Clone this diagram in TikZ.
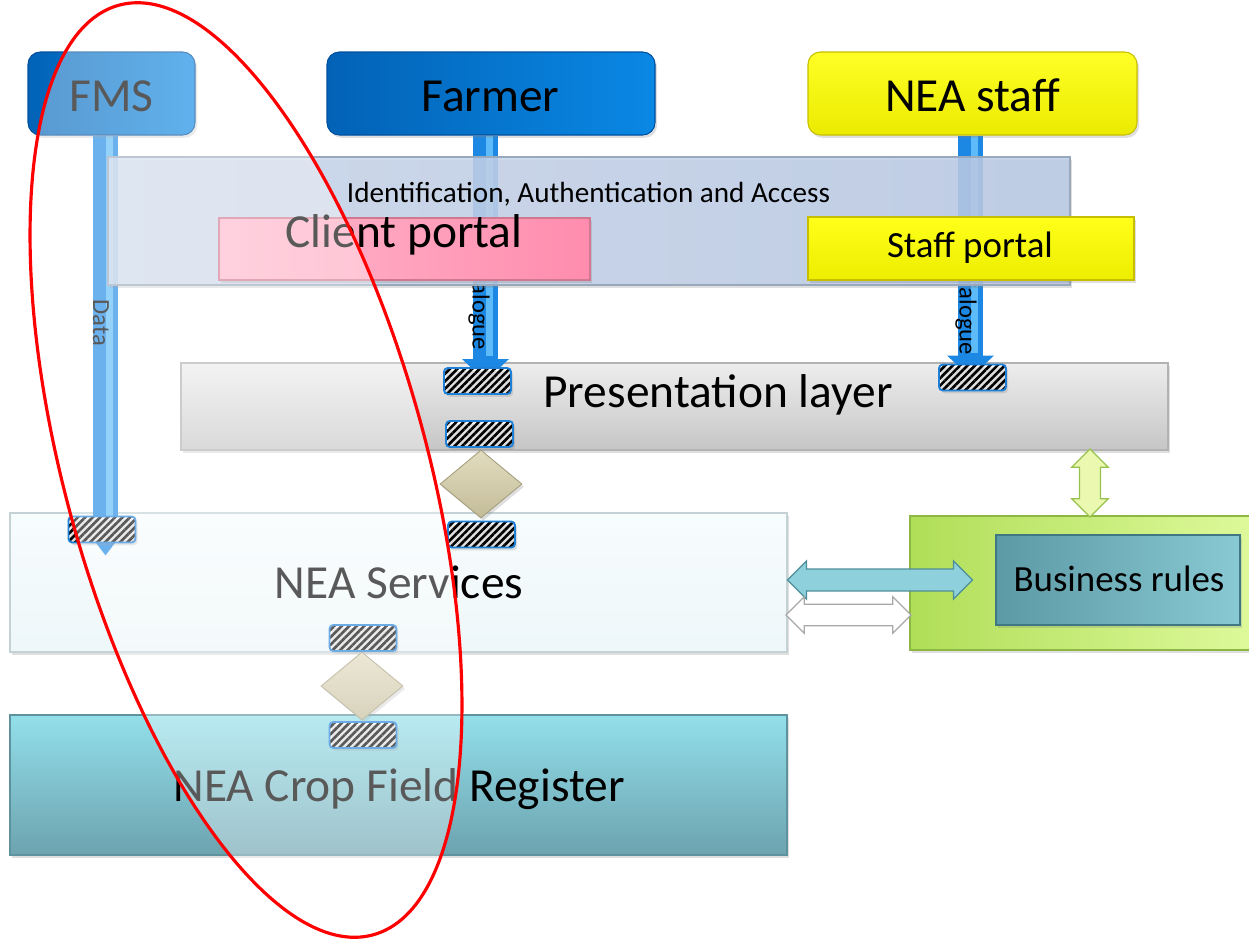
\documentclass[tikz,border=0pt]{standalone}
\usepackage{fontspec}
\setmainfont{Carlito}
\usetikzlibrary{shapes.geometric,shapes.arrows,patterns.meta,shadows,calc,arrows.meta,shadings}
\pgfdeclarelayer{layzero}
\pgfdeclarelayer{layone}
\pgfsetlayers{layzero,layone,main}
\newcommand{\pxu}{0.02cm}
\definecolor{actA}{HTML}{0262B6}
\definecolor{actB}{HTML}{0A88E4}
\definecolor{actD}{HTML}{00509E}
\definecolor{colblue}{HTML}{1C88E4}
\definecolor{colhi}{HTML}{5CBBF8}
\definecolor{yel}{HTML}{FFFF00}
\definecolor{yelD}{HTML}{C8BE00}
\definecolor{bandA}{HTML}{CCD8EC}
\definecolor{bandB}{HTML}{B9CAE6}
\definecolor{bandD}{HTML}{9AA8BC}
\definecolor{pinkA}{HTML}{FFB9CD}
\definecolor{pinkB}{HTML}{FF8CAE}
\definecolor{pinkD}{HTML}{D07890}
\definecolor{grayA}{HTML}{EDEDED}
\definecolor{grayB}{HTML}{C6C6C6}
\definecolor{svcA}{HTML}{F7FCFD}
\definecolor{svcB}{HTML}{EEF7F9}
\definecolor{svcD}{HTML}{C4D2D6}
\definecolor{regA}{HTML}{92DFEA}
\definecolor{regB}{HTML}{6CA3AF}
\definecolor{regD}{HTML}{5E939E}
\definecolor{grnA}{HTML}{B0DE58}
\definecolor{grnB}{HTML}{DDF99A}
\definecolor{grnD}{HTML}{8DB642}
\definecolor{brA}{HTML}{5C9AA5}
\definecolor{brB}{HTML}{88C9D4}
\definecolor{brD}{HTML}{3F7882}
\definecolor{dmA}{HTML}{E2DCC0}
\definecolor{dmB}{HTML}{C4BC98}
\definecolor{dmD}{HTML}{A59E7E}
\definecolor{hblue}{HTML}{1E7FD6}
\definecolor{tealA}{HTML}{8ED0DC}
\definecolor{tealD}{HTML}{4E8E99}
\definecolor{lgrn}{HTML}{EAF8B0}
\definecolor{lgrnD}{HTML}{98C24E}
\definecolor{wD}{HTML}{A8A8A8}
\begin{document}
\begin{tikzpicture}[x=0.02cm,y=-0.02cm,
  sz/.style 2 args={minimum width=#1*\pxu,minimum height=#2*\pxu,inner sep=0pt},
  shad/.style={drop shadow={shadow xshift=1.2pt,shadow yshift=-1.6pt,opacity=0.25}},
  actor/.style={rounded corners=7pt,shad,line width=0.6pt},
  layer/.style={shad,line width=0.6pt},
  big/.style={font=\fontsize{27}{32}\selectfont},
  mid/.style={font=\fontsize{21}{25}\selectfont},
  sml/.style={font=\fontsize{16.6}{20}\selectfont},
  tiny/.style={font=\fontsize{14}{16}\selectfont},
  lbl/.style={inner sep=0pt,anchor=base},
  hatch/.style={sz={67}{26},draw=hblue,line width=1.1pt,rounded corners=2.2pt,
    preaction={fill=white},pattern={Lines[angle=45,distance=3pt,line width=1.5pt]},
    pattern color=black,shad},
  dia/.style={diamond,sz={82}{68},top color=dmA,bottom color=dmB,draw=dmD,line width=0.5pt,shad},
  col/.style={line width=14.2pt,draw=colblue},
  colhl/.style={line width=4.5pt,draw=colhi},
  darr/.style={double arrow,inner sep=#1,minimum width=0pt,double arrow tip angle=90,line width=0.7pt},
]
\useasboundingbox (0,0) rectangle (1249,938);

% bottom layers
\begin{pgfonlayer}{layzero}
\node[layer,sz={987}{87},top color=grayA,bottom color=grayB,draw=grayB!90!black] (pres) at (674.5,406.5) {};
\node[layer,sz={777}{139},top color=svcA,bottom color=svcB,draw=svcD] (nsvc) at (398.5,582.5) {};
\node[layer,sz={777}{140},top color=regA,bottom color=regB,draw=regD] (reg) at (398.5,785) {};
\node[layer,sz={340}{134},left color=grnA,right color=grnB,draw=grnD] (grn) at (1080,583) {};
\node[layer,sz={244}{90},left color=brA,right color=brB,draw=brD] (br) at (1118,580) {};
\end{pgfonlayer}

% hatched connectors
\node[hatch] (h1) at (477.5,381) {};
\node[hatch] (h2) at (479.5,434) {};
\node[hatch] (h3) at (972.5,377.5) {};
\node[hatch] (h4) at (481.5,534.5) {};
\node[hatch] (h5) at (102,529.5) {};
\node[hatch] (h6) at (363,638) {};
\node[hatch] (h7) at (363,735) {};

% actors
\node[actor,sz={167}{83},left color=actA,right color=actB,draw=actD] (fms) at (111.5,93.5) {};
\node[actor,sz={328}{83},left color=actA,right color=actB,draw=actD] (farmer) at (491,93.5) {};
\node[actor,sz={329}{83},top color=yel!85!white,bottom color=yel!92!black,draw=yelD] (staff) at (972.5,93.5) {};

% columns (below hatched boxes, band and portals)
\coordinate (fmstip) at ($(h5.south)+(3.5,12)$);
\coordinate (fmstop) at (fms.south -| fmstip);
\coordinate (frmtop) at ($(farmer.south)+(-5.5,0)$);
\coordinate (frmtip) at (frmtop |- h1.center);
\coordinate (stftop) at ($(staff.south)+(-2,0)$);
\coordinate (stftip) at (stftop |- h3.center);
\begin{pgfonlayer}{layone}
\draw[col,-{Triangle[width=16pt,length=11pt]}] (fmstop) -- (fmstip);
\draw[colhl] ($(fmstop)+(4,0)$) -- ($(fmstip)+(4,-25)$);
\draw[col,-{Triangle[width=26pt,length=12.5pt]}] (frmtop) -- (frmtip);
\draw[colhl] ($(frmtop)+(4,0)$) -- ($(frmtip)+(4,-25)$);
\draw[col,-{Triangle[width=26pt,length=12.5pt]}] (stftop) -- (stftip);
\draw[colhl] ($(stftop)+(4,0)$) -- ($(stftip)+(4,-25)$);
\node[tiny,inner sep=0pt,rotate=-90] (tdata) at (101,323) {Data};
\node[tiny,inner sep=0pt,rotate=-90] (tdlg1) at (479,306) {Dialogue};
\node[tiny,inner sep=0pt,rotate=-90] (tdlg2) at (966,311) {Dialogue};
\end{pgfonlayer}

% band and portals
\node[layer,sz={962}{128},left color=bandA,right color=bandB,draw=bandD,fill opacity=0.85] (band) at (589,221) {};
\node[layer,sz={371}{62},left color=pinkA,right color=pinkB,draw=pinkD] (client) at (404.5,249) {};
\node[layer,sz={326}{63},top color=yel!90!white,bottom color=yel!93!black,draw=yelD] (staffp) at (971,248.5) {};

% diamonds
\node[dia] (d1) at (481,484) {};
\node[dia] (d2) at (362,686) {};

% double arrows
\node[darr=5.6pt,double arrow head extend=4.4pt,minimum height=68*\pxu,shape border rotate=90,
  fill=lgrn,draw=lgrnD] (av) at ($(pres.south -| 1090,0)!0.5!(grn.north -| 1090,0)$) {};
\node[darr=5.9pt,double arrow head extend=4.6pt,minimum height=185*\pxu,
  fill=tealA,draw=tealD] (at) at ($(nsvc.east |- 0,580)+(92.5,0)$) {};
\node[darr=5.8pt,double arrow head extend=4.2pt,minimum height=125*\pxu,
  fill=white,draw=wD] (aw) at ($(nsvc.east |- 0,615)!0.5!(grn.west |- 0,615)$) {};

% texts
\node[lbl,big] (tfms) at (111.5,111) {FMS};
\node[lbl,big] (tfarmer) at (490.5,111) {Farmer};
\node[lbl,big] (tstaff) at (972.5,111) {NEA staff};
\node[lbl,sml] (tband) at (588.5,202) {Identification, Authentication and Access};
\node[lbl,big] (tclient) at (404,247) {Client portal};
\node[lbl,mid] (tstaffp) at (970,257) {Staff portal};
\node[lbl,big] (tpres) at (718,407) {Presentation layer};
\node[lbl,big] (tsvc) at (399,598) {NEA Services};
\node[lbl,mid] (tbr) at (1119,591) {Business rules};
\node[lbl,big] (treg) at (399,801) {NEA Crop Field Register};

% highlighting ellipse
\draw[red,line width=1.8pt,fill=white,fill opacity=0.35,rotate around={15.3:(246,470)}]
  (246,470) ellipse [x radius=3.62cm,y radius=9.64cm];
\end{tikzpicture}
\end{document}
